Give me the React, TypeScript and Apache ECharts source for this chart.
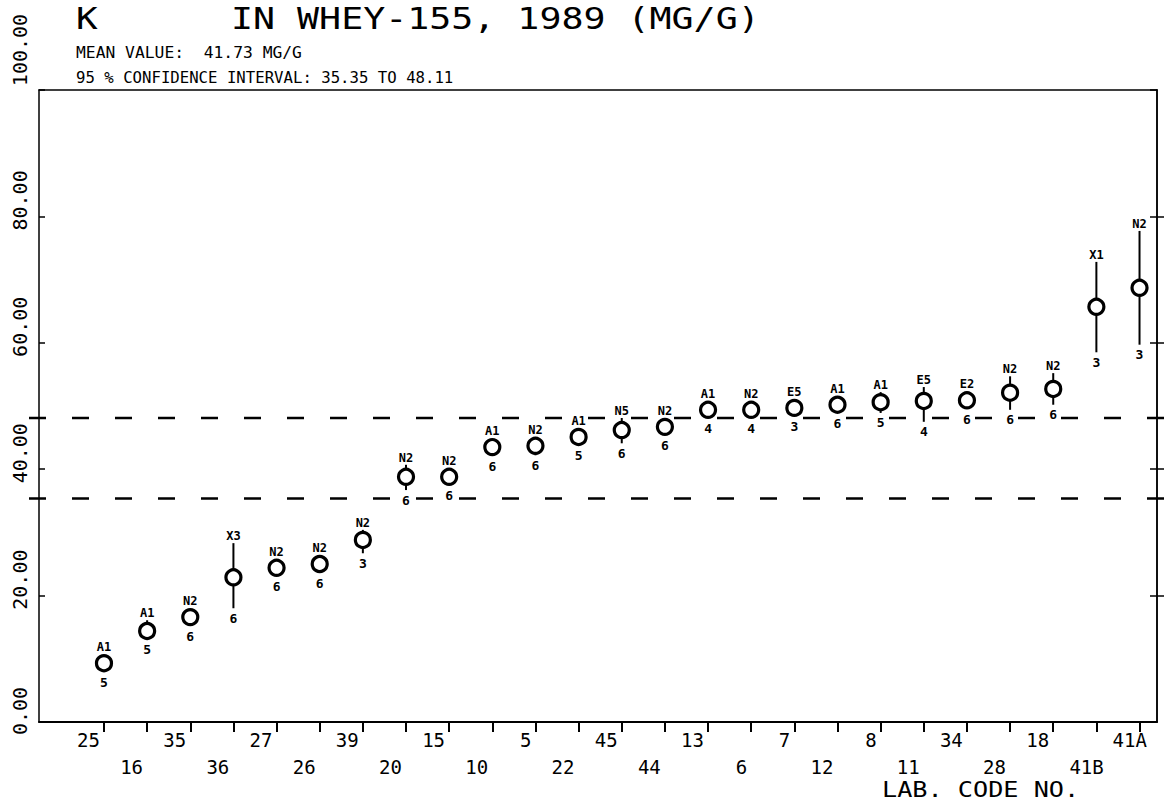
import React, { useEffect, useRef } from 'react';
import * as echarts from 'echarts';

// ---- data ----
const labCodes = ['25', '16', '35', '36', '27', '26', '39', '20', '15', '10', '5', '22', '45', '44', '13', '6', '7', '12', '8', '11', '34', '28', '18', '41B', '41A'];
const methodCodes = ['A1', 'A1', 'N2', 'X3', 'N2', 'N2', 'N2', 'N2', 'N2', 'A1', 'N2', 'A1', 'N5', 'N2', 'A1', 'N2', 'E5', 'A1', 'A1', 'E5', 'E2', 'N2', 'N2', 'X1', 'N2'];
const replicateCounts = [5, 5, 6, 6, 6, 6, 3, 6, 6, 6, 6, 5, 6, 6, 4, 4, 3, 6, 5, 4, 6, 6, 6, 3, 3];
const labMeans = [9.3, 14.4, 16.6, 22.9, 24.4, 25.0, 28.8, 38.8, 38.8, 43.5, 43.7, 45.1, 46.2, 46.7, 49.4, 49.4, 49.7, 50.2, 50.6, 50.8, 50.9, 52.1, 52.7, 65.7, 68.7];
const lowerLimits = [8.0, 13.3, 15.3, 18.0, 23.1, 23.7, 26.7, 36.7, 37.5, 42.2, 42.2, 43.8, 44.1, 45.4, 48.1, 48.1, 48.4, 48.9, 48.9, 47.5, 49.6, 49.4, 50.2, 58.5, 59.7];
const upperLimits = [10.6, 16.1, 17.9, 28.3, 25.7, 26.3, 30.4, 40.7, 40.1, 44.8, 45.1, 46.4, 48.1, 48.0, 50.7, 50.7, 51.0, 51.5, 52.2, 53.0, 52.2, 54.7, 55.2, 72.8, 77.7];
const ciLimits = [35.35, 48.11];
const yLabelShift: Record<number, number> = { 0: 22, 20: 32, 40: 32, 60: 32, 80: 32, 100: 80 };

const titleElement = 'K';
const titleText = 'IN WHEY-155, 1989 (MG/G)';
const meanText = 'MEAN VALUE:  41.73 MG/G';
const ciText = '95 % CONFIDENCE INTERVAL: 35.35 TO 48.11';
const xName = 'LAB. CODE NO.';

const FONT = "'DejaVu Sans Mono', 'Liberation Mono', monospace";
const X_MIN = -0.506;
const X_MAX = 25.405;

export default function App() {
  const ref = useRef<HTMLDivElement>(null);
  useEffect(() => {
    const chart = echarts.init(ref.current as HTMLDivElement, null, { renderer: 'svg' });
    const positions = labCodes.map((_, i) => i + 1);
    const pointData = labMeans.map((m, i) => [i + 1, m, lowerLimits[i], upperLimits[i]]);

    // each label box ends at its tick (align right); the text starts at a fixed
    // distance left of the tick, a 3-character code running past the tick
    const xRich: Record<string, any> = {};
    const boxW: Record<number, number> = { 1: 15.5, 2: 27, 3: 27 };
    [1, 2, 3].forEach((len) => {
      const base = { fontFamily: FONT, fontSize: 19, color: '#000', lineHeight: 20, width: boxW[len], align: 'left', overflow: 'none' };
      xRich['a' + len] = { ...base, padding: [0, 0, 0, 0] };
      xRich['b' + len] = { ...base, padding: [54, 0, 0, 0] };
    });
    const yRich: Record<string, any> = {};
    Object.keys(yLabelShift).forEach((k) => {
      yRich['p' + k] = { fontFamily: FONT, fontSize: 20, color: '#000', padding: [0, 0, 0, yLabelShift[Number(k)]] };
    });

    const axisLineStyle = { color: '#000', width: 1.5 };

    const option: any = {
      animation: false,
      backgroundColor: '#fff',
      grid: { left: 39, right: 11, top: 90, bottom: 78, containLabel: false },
      graphic: [
        { type: 'text', x: 76, y: 19, scaleX: 1.2, style: { text: titleElement, fontFamily: FONT, fontSize: 30, fill: '#000', textAlign: 'left', textVerticalAlign: 'middle' } },
        { type: 'text', x: 231, y: 19, scaleX: 1.22, style: { text: titleText, fontFamily: FONT, fontSize: 30, fill: '#000', textAlign: 'left', textVerticalAlign: 'middle' } },
        { type: 'text', x: 76, y: 53, scaleX: 1.02, style: { text: meanText, fontFamily: FONT, fontSize: 16, fill: '#000', textAlign: 'left', textVerticalAlign: 'middle' } },
        { type: 'text', x: 76, y: 77, scaleX: 0.98, style: { text: ciText, fontFamily: FONT, fontSize: 16, fill: '#000', textAlign: 'left', textVerticalAlign: 'middle' } },
        { type: 'text', x: 882, y: 789, scaleX: 1.2, style: { text: xName, fontFamily: FONT, fontSize: 21, fill: '#000', textAlign: 'left', textVerticalAlign: 'middle' } },
      ],
      xAxis: [
        {
          type: 'value', position: 'bottom', min: X_MIN, max: X_MAX,
          axisLine: { show: true, onZero: false, lineStyle: { color: '#000', width: 2 } },
          axisTick: { show: true, customValues: positions, length: 10, inside: false, lineStyle: { color: '#000', width: 2 } },
          axisLabel: {
            show: true, customValues: positions, margin: 8, color: '#000', align: 'right',
            showMinLabel: true, showMaxLabel: true, hideOverlap: false,
            formatter: (v: number) => {
              const i = Math.round(v) - 1;
              const lab = labCodes[i];
              if (!lab) return '';
              return '{' + (i % 2 === 0 ? 'a' : 'b') + lab.length + '|' + lab + '}';
            },
            rich: xRich,
          },
          splitLine: { show: false },
        },
        {
          type: 'value', position: 'top', min: X_MIN, max: X_MAX,
          axisLine: { show: true, onZero: false, lineStyle: axisLineStyle },
          axisTick: { show: false }, axisLabel: { show: false }, splitLine: { show: false },
        },
      ],
      yAxis: [
        {
          type: 'value', position: 'left', min: 0, max: 100, interval: 20,
          axisLine: { show: true, onZero: false, lineStyle: axisLineStyle },
          axisTick: { show: true, inside: true, length: 6, lineStyle: axisLineStyle },
          axisLabel: {
            show: true, rotate: 90, margin: 9, color: '#000',
            showMinLabel: true, showMaxLabel: true,
            formatter: (v: number) => '{p' + v + '|' + v.toFixed(2) + '}',
            rich: yRich,
          },
          splitLine: { show: false },
        },
        {
          type: 'value', position: 'right', min: 0, max: 100, interval: 20,
          axisLine: { show: true, onZero: false, lineStyle: axisLineStyle },
          axisTick: { show: true, inside: true, length: 7, lineStyle: axisLineStyle },
          axisLabel: { show: false }, splitLine: { show: false },
        },
        {
          type: 'value', position: 'right', min: 0, max: 100, interval: 20,
          axisLine: { show: true, onZero: false, lineStyle: axisLineStyle },
          axisTick: { show: true, inside: false, length: 7, customValues: [20, 40, 60, 80], lineStyle: axisLineStyle },
          axisLabel: { show: false }, splitLine: { show: false },
        },
      ],
      series: [
        {
          type: 'custom', name: 'CI', xAxisIndex: 0, yAxisIndex: 0, clip: false, z: 1,
          data: ciLimits.map((v) => [1, v]),
          encode: { x: 0, y: 1 },
          renderItem: (params: any, api: any) => {
            const y = api.coord([1, api.value(1)])[1];
            const cs = params.coordSys;
            return {
              type: 'line',
              shape: { x1: cs.x - 10, y1: y, x2: cs.x + cs.width + 12, y2: y },
              style: { stroke: '#000', lineWidth: 2.5, lineDash: [17, 26] },
            };
          },
        },
        {
          type: 'custom', name: 'labs', xAxisIndex: 0, yAxisIndex: 0, clip: false, z: 3,
          data: pointData,
          encode: { x: 0, y: 1 },
          renderItem: (params: any, api: any) => {
            const i = params.dataIndex;
            const xv = api.value(0);
            const [cx, cy] = api.coord([xv, api.value(1)]);
            const yLo = api.coord([xv, api.value(2)])[1];
            const yHi = api.coord([xv, api.value(3)])[1];
            const r = 7.5;
            const topY = Math.min(yHi, cy - 9);
            const botY = Math.max(yLo, cy + 9);
            return {
              type: 'group',
              children: [
                { type: 'line', shape: { x1: cx, y1: yHi, x2: cx, y2: yLo }, style: { stroke: '#000', lineWidth: 2 } },
                { type: 'circle', shape: { cx, cy, r }, style: { fill: '#fff', stroke: '#000', lineWidth: 3.2 } },
                { type: 'text', x: cx, y: topY - 7, style: { text: methodCodes[i], fontFamily: FONT, fontSize: 12, fontWeight: 'bold', fill: '#000', textAlign: 'center', textVerticalAlign: 'middle' } },
                { type: 'text', x: cx, y: botY + 10, style: { text: String(replicateCounts[i]), fontFamily: FONT, fontSize: 13, fontWeight: 'bold', fill: '#000', textAlign: 'center', textVerticalAlign: 'middle' } },
              ],
            };
          },
        },
      ],
    };
    chart.setOption(option);
    return () => chart.dispose();
  }, []);
  return <div ref={ref} style={{ position: 'fixed', left: 0, top: 0, width: 1168, height: 800, background: '#fff' }} />;
}
